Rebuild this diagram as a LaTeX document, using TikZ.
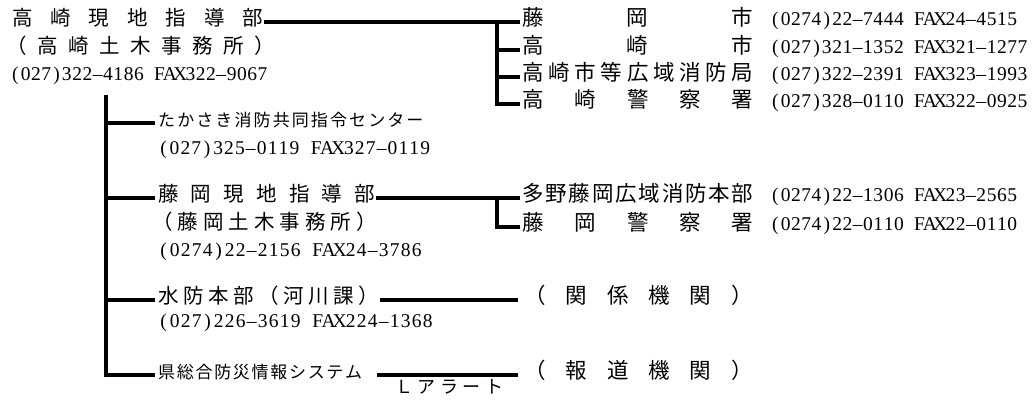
\documentclass[tikz,border=0pt]{standalone}
\usepackage{fontspec}
\setmainfont{Noto Sans CJK JP}
\newfontfamily\numfont{Liberation Serif}
\newcommand\fsz[1]{\fontsize{#1}{#1}\selectfont}
% spaced-out Japanese text: #1 pitch, #2 characters
\newcommand\jsp[2]{\def\jpitch{#1}\jsploop#2\relax\kern-\jpitch\kern1em\null}
\def\jsploop#1{\ifx#1\relax\else\makebox[0pt][l]{#1}\kern\jpitch\expandafter\jsploop\fi}
% half-width (monospaced) phone text: #1 cell width, #2 string (~ = space)
\newcommand\ph[2]{\def\phcell{#1}\phloop#2\relax\null}
\def\phloop#1{\ifx#1\relax\else\phchar{#1}\expandafter\phloop\fi}
\def\phchar#1{\makebox[\phcell][c]{\ifx#1-–\else#1\fi}}
\tikzset{
  lbl/.style={anchor=west,inner sep=0pt,text height=0.72em,text depth=0pt},
  txbig/.style={lbl,font=\fsz{20.5}},
  txname/.style={lbl,font=\fsz{21.5}},
  txsmall/.style={lbl,font=\fsz{17}},
  txtel/.style={lbl,font=\numfont\fsz{19.5}},
  conn/.style={line width=3.2pt}}
\begin{document}
\begin{tikzpicture}[x=1pt,y=-1pt]
\fill[white] (0,0) rectangle (1032,399);
\useasboundingbox (0,0) rectangle (1032,399);

% ---- Takasaki HQ
\node[txbig] (hq) at (12,22) {\jsp{38.4pt}{高崎現地指導部}};
\node[txbig] (hq2) at (6,50) {\jsp{31pt}{（高崎土木事務所）}};
\node[txtel] (hq3) at (10,77) {\ph{10.3pt}{(027)322-4186~FAX322-9067}};

% ---- right list (top)
\node[txname] (r1) at (522,22) {\jsp{104.75pt}{藤岡市}};
\node[txname] (r2) at (522,50) {\jsp{104.75pt}{高崎市}};
\node[txname] (r3) at (522,77) {\jsp{26.2pt}{高崎市等広域消防局}};
\node[txname] (r4) at (522,104) {\jsp{52.4pt}{高崎警察署}};
\node[txtel] (r1p) at (770,22) {\ph{10.3pt}{(0274)22-7444~FAX24-4515}};
\node[txtel] (r2p) at (770,50) {\ph{10.3pt}{(027)321-1352~FAX321-1277}};
\node[txtel] (r3p) at (770,77) {\ph{10.3pt}{(027)322-2391~FAX323-1993}};
\node[txtel] (r4p) at (770,104) {\ph{10.3pt}{(027)328-0110~FAX322-0925}};

% ---- sub units
\node[txsmall] (s1) at (158,123) {\jsp{19.1pt}{たかさき消防共同指令センター}};
\node[txtel] (s1p) at (158,151) {\ph{10.9pt}{(027)325-0119~FAX327-0119}};

\node[txbig] (f1) at (158,198) {\jsp{32.75pt}{藤岡現地指導部}};
\node[txbig] (f2) at (152,226) {\jsp{25.5pt}{（藤岡土木事務所）}};
\node[txtel] (f3) at (158,253) {\ph{11pt}{(0274)22-2156~FAX24-3786}};
\node[txname] (fr1) at (522,198) {\jsp{23.3pt}{多野藤岡広域消防本部}};
\node[txname] (fr2) at (522,227) {\jsp{52.4pt}{藤岡警察署}};
\node[txtel] (fr1p) at (770,198) {\ph{10.3pt}{(0274)22-1306~FAX23-2565}};
\node[txtel] (fr2p) at (770,227) {\ph{10.3pt}{(0274)22-0110~FAX22-0110}};

\node[txbig] (w1) at (158,300) {\jsp{25pt}{水防本部（河川課）}};
\node[txtel] (w2) at (158,324) {\ph{11pt}{(027)226-3619~FAX224-1368}};
\node[txname] (kan) at (524,300) {\jsp{41.4pt}{（関係機関）}};

\node[txsmall] (k1) at (158,375) {\jsp{18.7pt}{県総合防災情報システム}};
\node[txname] (hou) at (524,375) {\jsp{41.4pt}{（報道機関）}};
\node[lbl,font=\fsz{18}] (la) at (395,390) {\jsp{22.5pt}{Ｌアラート}};

% ---- connectors
\coordinate (jR) at (497,22);
\draw[conn] ([xshift=1pt]hq.east) -- ([xshift=-2pt]hq.east -| r1.west);
\draw[conn] (jR) |- ([xshift=-2pt]r4.west);
\draw[conn] (jR |- r2.west) -- ([xshift=-2pt]r2.west);
\draw[conn] (jR |- r3.west) -- ([xshift=-2pt]r3.west);

\coordinate (t0) at (106,95);
\draw[conn] (t0) |- ([xshift=-3pt]k1.west);
\draw[conn] (t0 |- s1.west) -- ([xshift=-3pt]s1.west);
\draw[conn] (t0 |- f1.west) -- ([xshift=-3pt]f1.west);
\draw[conn] (t0 |- w1.west) -- ([xshift=-3pt]w1.west);

\coordinate (jF) at (jR |- f1.east);
\draw[conn] ([xshift=1pt]f1.east) -- ([xshift=-2pt]f1.east -| fr1.west);
\draw[conn] (jF) |- ([xshift=-2pt]fr2.west);

\draw[conn] ([xshift=1pt]w1.east) -- ([xshift=-6pt]w1.east -| kan.west);
\draw[conn] ([xshift=15pt]k1.east) -- ([xshift=-6pt]k1.east -| hou.west);
\end{tikzpicture}
\end{document}
